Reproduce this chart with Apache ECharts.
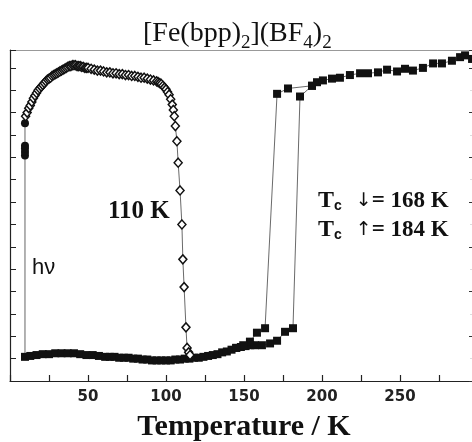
<!DOCTYPE html>
<html><head><meta charset="utf-8">
<script src="https://cdn.jsdelivr.net/npm/echarts@6/dist/echarts.min.js"></script>
<style>html,body{margin:0;padding:0;background:#fff}#c{width:472px;height:442px}</style>
</head><body><div id="c"></div>
<script>
// Thermal cycle, heating branch (filled squares)
const heatingT = [9.6,13,17,21,25,29,33,37,41,45,49,53,57,61,64,67,70,73,76,79,82,85,88,91,94,97,100,103,106,109,112,115,118,121,124,127,130,133,136,139,142,145,148,151,154,157,161.5,166.7,171.2,176.3,181.4,
  185.9,193.6,196.8,200.6,206.4,211.5,217.9,224.4,229.5,235.9,241.7,248.1,253.2,258.3,264.7,271.2,276.9,283.3,288.5,291.7,296.2];
const heatingV = [0.27,0.28,0.29,0.30,0.30,0.31,0.31,0.31,0.31,0.30,0.29,0.29,0.28,0.27,0.27,0.27,0.26,0.26,0.26,0.25,0.25,0.24,0.24,0.23,0.23,0.23,0.23,0.23,0.24,0.24,0.25,0.25,0.26,0.26,0.27,0.28,0.29,0.30,0.32,0.33,0.35,0.37,0.38,0.39,0.40,0.40,0.40,0.42,0.45,0.55,0.59,
  3.18,3.30,3.34,3.36,3.38,3.39,3.42,3.44,3.44,3.45,3.48,3.46,3.49,3.47,3.50,3.55,3.55,3.58,3.62,3.64,3.60];
// Cooling branch (filled squares)
const coolingT = [193.6,178.2,171.2,163.5,158.3,153.8,149.5,145];
const coolingV = [3.30,3.27,3.21,0.59,0.54,0.44,0.40,0.37];
// Irradiation at 10 K (h nu)
const irradT = [9.6,9.6,9.6,9.6,9.6,9.6];
const irradV = [0.27,2.52,2.56,2.60,2.63,2.88];
// Relaxation after irradiation (open diamonds)
const relaxT = [10,11,12,13,14,15,16,17,18,19,20,21,22,23,24,25,26,27,28,29,30,31,32,33,34,35,36,37,38,39,40,41,42,43,44,45,46,47,48,49,50,52,54,56,58,60,62,64,66,68,70,72,74,76,78,80,82,84,86,88,90,92,94,95,96,97,98,99,100,101,102,103,104,104.7,105.3,106,107,107.8,109,110.2,110.8,111.6,112.8,113.5,114.5,115.4];
const relaxV = [2.96,3.00,3.05,3.08,3.12,3.16,3.19,3.22,3.25,3.27,3.29,3.31,3.33,3.35,3.37,3.38,3.39,3.41,3.42,3.43,3.44,3.45,3.46,3.47,3.48,3.49,3.50,3.51,3.52,3.52,3.53,3.53,3.53,3.52,3.52,3.52,3.51,3.51,3.50,3.50,3.50,3.49,3.48,3.47,3.47,3.46,3.45,3.45,3.44,3.44,3.43,3.43,3.42,3.42,3.41,3.41,3.40,3.39,3.39,3.38,3.37,3.36,3.35,3.34,3.33,3.32,3.30,3.28,3.26,3.23,3.20,3.15,3.09,3.03,2.96,2.85,2.68,2.44,2.13,1.75,1.36,1.05,0.60,0.37,0.32,0.29];
const xTickLabels = [50,100,150,200,250];

const zip = (a,b) => a.map((v,i)=>[v,b[i]]);
const serif = 'Liberation Serif';
const sans = 'Liberation Sans';
const chart = echarts.init(document.getElementById('c'), null, {renderer:'canvas'});
const lineStyle = {color:'#444', width:0.8};
const tcRich = {
  T:{fontFamily:serif, fontWeight:'bold', fontSize:24, lineHeight:24},
  c:{fontFamily:sans, fontWeight:'bold', fontSize:14, lineHeight:12, verticalAlign:'bottom'},
  r:{fontFamily:'DejaVu Sans', fontSize:19, lineHeight:24, padding:[0,0,0,14]},
  e:{fontFamily:serif, fontWeight:'bold', fontSize:23, lineHeight:24}
};
chart.setOption({
  animation:false,
  backgroundColor:'#fff',
  title:{
    text:'{a|[Fe(bpp)}{s|2}{a|](BF}{s|4}{a|)}{s|2}',
    left:143, top:15, padding:0,
    textStyle:{fontFamily:serif, fontSize:28, color:'#111', fontWeight:'normal',
      rich:{
        a:{fontFamily:serif, fontSize:28, lineHeight:38, color:'#111'},
        s:{fontFamily:serif, fontSize:19, lineHeight:19, verticalAlign:'bottom', color:'#111'}
      }}
  },
  grid:{left:10, top:50, width:468, height:331, containLabel:false, outerBoundsMode:'none'},
  xAxis:[{
    type:'value', min:0, max:300, interval:25, position:'bottom',
    axisLine:{onZero:false, lineStyle:{color:'#222', width:1.2}},
    axisTick:{inside:true, length:6, lineStyle:{color:'#222', width:1.2}},
    axisLabel:{formatter:v => xTickLabels.includes(v) ? String(v) : '', margin:9,
      fontFamily:'DejaVu Sans', fontWeight:'bold', fontSize:15, color:'#222'},
    splitLine:{show:false},
    name:'Temperature / K', nameLocation:'middle', nameGap:31,
    nameTextStyle:{fontFamily:serif, fontWeight:'bold', fontSize:30, color:'#111'}
  },{
    type:'value', min:0, max:300, position:'top',
    axisLine:{onZero:false, lineStyle:{color:'#999', width:1}},
    axisTick:{show:false}, axisLabel:{show:false}, splitLine:{show:false}
  }],
  yAxis:[{
    type:'value', min:0, max:3.7, interval:0.25, position:'left',
    axisLine:{show:true, onZero:false, lineStyle:{color:'#222', width:1.2}},
    axisTick:{show:true, inside:true, length:6, lineStyle:{color:'#222', width:1}},
    axisLabel:{show:false}, splitLine:{show:false}
  },{
    type:'value', min:0, max:3.7, interval:0.5, position:'right',
    axisLine:{show:false, onZero:false},
    axisTick:{show:true, inside:true, length:9, lineStyle:{color:'#333', width:1}},
    minorTick:{show:true, splitNumber:2, length:8, lineStyle:{color:'#ddd'}},
    axisLabel:{show:false}, splitLine:{show:false}
  }],
  series:[
    {type:'line', name:'irradiation', data:zip(irradT, irradV).map((p,i)=> i===0 ? {value:p, symbol:'none'} : p),
      symbol:'circle', symbolSize:8, itemStyle:{color:'#111'}, lineStyle:{color:'#555', width:0.9}, z:3},
    {type:'line', name:'heating', data:zip(heatingT, heatingV), symbol:'rect', symbolSize:8,
      showAllSymbol:true, itemStyle:{color:'#111'}, lineStyle, z:4},
    {type:'line', name:'cooling', data:zip(coolingT, coolingV), symbol:'rect', symbolSize:8,
      showAllSymbol:true, itemStyle:{color:'#111'}, lineStyle, z:4},
    {type:'line', name:'relaxation', data:zip(relaxT, relaxV), symbol:'diamond', symbolSize:[8,9],
      showAllSymbol:true, itemStyle:{color:'#fff', borderColor:'#111', borderWidth:1.5}, lineStyle, z:5}
  ],
  graphic:[
    {type:'text', left:108, top:199, style:{text:'110 K', font:'bold 25px "Liberation Serif"', fill:'#111'}},
    {type:'text', left:32, top:257, style:{text:'hν', font:'22px "Liberation Sans"', fill:'#111'}},
    {type:'text', left:318, top:189, style:{text:'{T|T}{c|c}{r|↓}{e|= 168 K}', fill:'#111', rich:tcRich}},
    {type:'text', left:318, top:218, style:{text:'{T|T}{c|c}{r|↑}{e|= 184 K}', fill:'#111', rich:tcRich}}
  ]
});
</script></body></html>
